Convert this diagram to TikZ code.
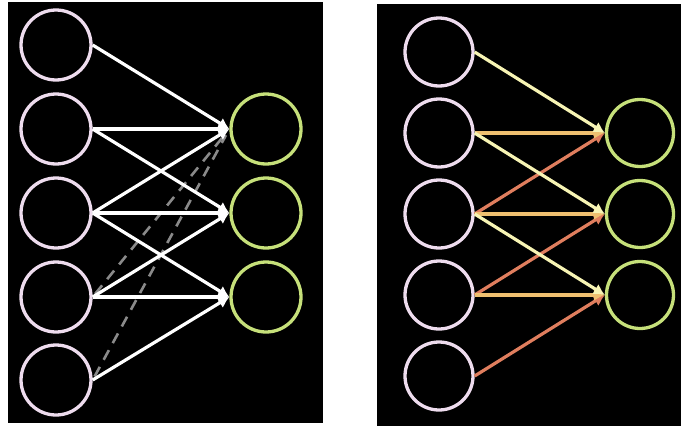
\documentclass[tikz,border=0pt]{standalone}
\usetikzlibrary{arrows.meta}
\definecolor{pinkc}{HTML}{EEDCEE}
\definecolor{greenc}{HTML}{C6E07A}
\definecolor{yelc}{HTML}{F7F4B4}
\definecolor{orac}{HTML}{EFC070}
\definecolor{salc}{HTML}{E07E5E}
\definecolor{dashc}{HTML}{8A8A8A}
\begin{document}
\begin{tikzpicture}[x=1pt,y=-1pt,
  inL/.style={circle,draw=pinkc,line width=3.3pt,minimum size=70pt,inner sep=0pt},
  outL/.style={circle,draw=greenc,line width=3.3pt,minimum size=70pt,inner sep=0pt},
  inR/.style={circle,draw=pinkc,line width=3.3pt,minimum size=68pt,inner sep=0pt},
  outR/.style={circle,draw=greenc,line width=3.3pt,minimum size=67pt,inner sep=0pt},
  conn/.style={line width=3.2pt,-{Latex[length=11pt,width=12pt]}},
  wline/.style={conn,white},
  yline/.style={conn,yelc},
  oline/.style={conn,orac},
  sline/.style={conn,salc},
  dline/.style={line width=2.6pt,dashc,dash pattern=on 11pt off 8pt,shorten >=7pt,shorten <=4pt}]
\useasboundingbox (0,0) rectangle (681,426);
\fill[white] (0,0) rectangle (681,426);
\fill[black] (8,2) rectangle (323,423);
\fill[black] (377,4) rectangle (681,426);
% left panel
\foreach \i/\y in {1/45,2/129,3/213,4/297,5/380} {\node[inL] (a\i) at (56,\y) {};}
\foreach \i/\y in {1/129,2/213,3/297} {\node[outL] (b\i) at (266,\y) {};}
\draw[dline] (a4.east) -- (b1.west);
\draw[dline] (a5.east) -- (b1.west);
\draw[wline] (a1.east) -- (b1.west);
\draw[wline] (a2.east) -- (b1.west);
\draw[wline] (a2.east) -- (b2.west);
\draw[wline] (a3.east) -- (b1.west);
\draw[wline] (a3.east) -- (b2.west);
\draw[wline] (a3.east) -- (b3.west);
\draw[wline] (a4.east) -- (b2.west);
\draw[wline] (a4.east) -- (b3.west);
\draw[wline] (a5.east) -- (b3.west);
% right panel
\foreach \i/\y in {1/52,2/133,3/214,4/295,5/376} {\node[inR] (c\i) at (439,\y) {};}
\foreach \i/\y in {1/133,2/214,3/295} {\node[outR] (d\i) at (640,\y) {};}
\draw[sline] (c3.east) -- (d1.west);
\draw[sline] (c4.east) -- (d2.west);
\draw[sline] (c5.east) -- (d3.west);
\draw[oline] (c2.east) -- (d1.west);
\draw[oline] (c3.east) -- (d2.west);
\draw[oline] (c4.east) -- (d3.west);
\draw[yline] (c1.east) -- (d1.west);
\draw[yline] (c2.east) -- (d2.west);
\draw[yline] (c3.east) -- (d3.west);
\end{tikzpicture}
\end{document}
